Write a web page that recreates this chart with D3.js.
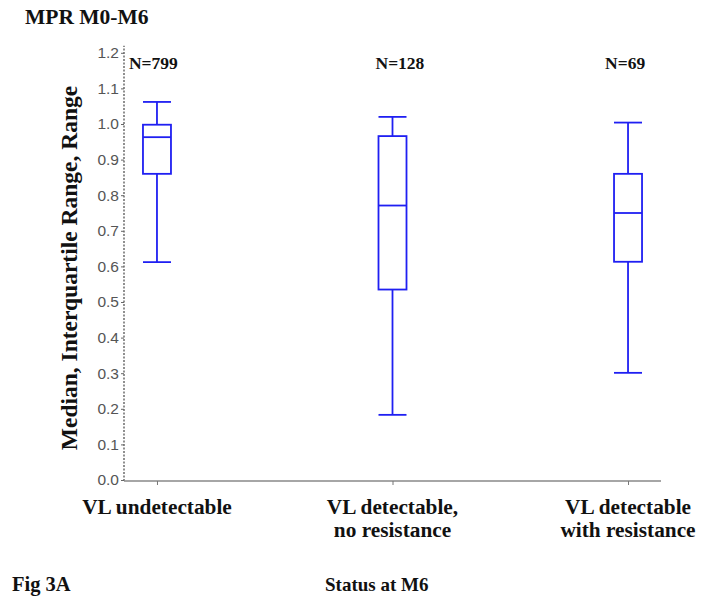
<!DOCTYPE html>
<html>
<head>
<meta charset="utf-8">
<script src="https://cdn.jsdelivr.net/npm/d3@7"></script>
<style>
  html, body { margin: 0; padding: 0; background: #fff; }
  svg { display: block; }
</style>
</head>
<body>
<div id="chart"></div>
<script>
// ---- data ----
const categories = ["VL undetectable", "VL detectable,\nno resistance", "VL detectable\nwith resistance"];
const counts = ["N=799", "N=128", "N=69"];
const mins    = [0.612, 0.183, 0.301];
const q1s     = [0.860, 0.535, 0.613];
const medians = [0.963, 0.771, 0.750];
const q3s     = [0.998, 0.966, 0.860];
const maxs    = [1.062, 1.020, 1.004];
const yTicks  = [0.0, 0.1, 0.2, 0.3, 0.4, 0.5, 0.6, 0.7, 0.8, 0.9, 1.0, 1.1, 1.2];

const W = 702, H = 606;
const svg = d3.select("#chart").append("svg").attr("width", W).attr("height", H);

const x = d3.scalePoint().domain(categories).range([124, 661]).padding(0.14);
const y = d3.scaleLinear().domain([0, 1.2]).range([480, 52.8]);

const serif = "'Liberation Serif', 'Times New Roman', serif";
const sans = "'Liberation Sans', Arial, sans-serif";
const blue = "#1f1ff2";

// title
svg.append("text").attr("x", 25).attr("y", 24)
  .attr("font-family", serif).attr("font-weight", "bold").attr("font-size", 21.5)
  .attr("fill", "#111").text("MPR M0-M6");

// y axis
const yAxis = svg.append("g").attr("transform", "translate(124,0)")
  .call(d3.axisLeft(y).tickValues(yTicks).tickFormat(d3.format(".1f")).tickSize(3).tickPadding(2));
yAxis.select(".domain").attr("d", `M0,${y(0)+1}V${y(1.22)}`)
  .attr("stroke", "#555").attr("stroke-width", 1.3).attr("stroke-dasharray", "2,1.5");
yAxis.selectAll(".tick line").attr("stroke", "#666");
yAxis.selectAll(".tick text").attr("font-family", sans).attr("font-size", 15.5)
  .attr("fill", "#555");

// x axis
const xAxis = svg.append("g").attr("transform", `translate(0,${y(0)+1})`)
  .call(d3.axisBottom(x).tickSize(4).tickFormat(""));
xAxis.select(".domain").attr("d", "M124,0H661").attr("stroke", "#888").attr("stroke-width", 1.3);
xAxis.selectAll(".tick line").attr("stroke", "#777");

// x labels
categories.forEach((c) => {
  const lines = c.split("\n");
  const t = svg.append("text").attr("text-anchor", "middle")
    .attr("font-family", serif).attr("font-weight", "bold").attr("font-size", 21.3)
    .attr("fill", "#111");
  lines.forEach((ln, i) => {
    t.append("tspan").attr("x", x(c)).attr("y", 514 + i * 23).text(ln);
  });
});

// y label
svg.append("text")
  .attr("transform", `translate(77,${268}) rotate(-90)`)
  .attr("text-anchor", "middle")
  .attr("font-family", serif).attr("font-weight", "bold").attr("font-size", 23.5)
  .attr("fill", "#111").text("Median, Interquartile Range, Range");

// bottom texts
svg.append("text").attr("x", 12).attr("y", 591)
  .attr("font-family", serif).attr("font-weight", "bold").attr("font-size", 20.5)
  .attr("fill", "#111").text("Fig 3A");
svg.append("text").attr("x", 325).attr("y", 591)
  .attr("font-family", serif).attr("font-weight", "bold").attr("font-size", 19)
  .attr("fill", "#111").text("Status at M6");

// N labels
const nOffsets = [-28, -17, -23];
counts.forEach((n, i) => {
  svg.append("text").attr("x", x(categories[i]) + nOffsets[i]).attr("y", 69)
    .attr("font-family", serif).attr("font-weight", "bold").attr("font-size", 17.5)
    .attr("fill", "#111").text(n);
});

// boxes
const bw = 28;
const g = svg.append("g").attr("stroke", blue).attr("stroke-width", 1.8).attr("fill", "none");
categories.forEach((c, i) => {
  const cx = x(c);
  // whiskers
  g.append("line").attr("x1", cx).attr("x2", cx).attr("y1", y(maxs[i])).attr("y2", y(q3s[i]));
  g.append("line").attr("x1", cx).attr("x2", cx).attr("y1", y(q1s[i])).attr("y2", y(mins[i]));
  // caps
  g.append("line").attr("x1", cx - bw/2).attr("x2", cx + bw/2).attr("y1", y(maxs[i])).attr("y2", y(maxs[i]));
  g.append("line").attr("x1", cx - bw/2).attr("x2", cx + bw/2).attr("y1", y(mins[i])).attr("y2", y(mins[i]));
  // box
  g.append("rect").attr("x", cx - bw/2).attr("y", y(q3s[i]))
    .attr("width", bw).attr("height", y(q1s[i]) - y(q3s[i]));
  // median
  g.append("line").attr("x1", cx - bw/2).attr("x2", cx + bw/2).attr("y1", y(medians[i])).attr("y2", y(medians[i]));
});
</script>
</body>
</html>
